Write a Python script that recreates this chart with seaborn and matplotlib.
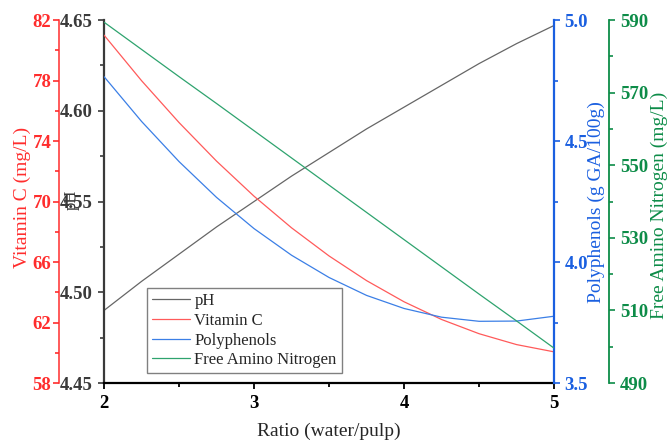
import matplotlib.pyplot as plt
import matplotlib.ticker as mticker
import seaborn as sns

# values
ratio = [2.0, 2.25, 2.5, 2.75, 3.0, 3.25, 3.5, 3.75, 4.0, 4.25, 4.5, 4.75, 5.0]
ph = [4.490, 4.506, 4.521, 4.536, 4.550, 4.564, 4.577, 4.590, 4.602, 4.614, 4.626, 4.637, 4.647]
vitamin_c = [81.00, 77.99, 75.22, 72.67, 70.35, 68.26, 66.40, 64.77, 63.37, 62.20, 61.26, 60.54, 60.06]
polyphenols = [4.766, 4.581, 4.415, 4.267, 4.138, 4.028, 3.936, 3.862, 3.808, 3.772, 3.755, 3.756, 3.776]
free_amino_n = [589.4, 581.9, 574.4, 567.0, 559.5, 552.0, 544.5, 537.0, 529.5, 522.0, 514.5, 507.1, 499.6]

x_ticks = [2, 3, 4, 5]
ph_ticks = [4.45, 4.50, 4.55, 4.60, 4.65]
vc_ticks = [58, 62, 66, 70, 74, 78, 82]
pp_ticks = [3.5, 4.0, 4.5, 5.0]
fan_ticks = [490, 510, 530, 550, 570, 590]

PH_AXIS = "#3a3a3a"
RED = "#ff2d2d"
BLUE = "#1a5fe0"
GREEN = "#0d8c48"
TICK_SIZE = 13.5

sns.set_theme(style="ticks")
plt.rcParams["font.family"] = ["Liberation Serif", "DejaVu Serif"]
plt.rcParams["font.weight"] = "bold"


def _style_y(a, color, pad):
    a.tick_params(axis="y", which="both", colors=color, labelsize=TICK_SIZE, width=1.2, pad=pad)
    a.tick_params(axis="y", which="major", length=4.5)
    a.tick_params(axis="y", which="minor", length=3)


fig = plt.figure(figsize=(6.67, 4.45), dpi=100)
ax = fig.add_axes([0.156, 0.1393, 0.6747, 0.8157])
ax_vc = ax.twinx()
ax_pp = ax.twinx()
ax_fan = ax.twinx()

sns.lineplot(x=ratio, y=ph, ax=ax, color="#666666", linewidth=0.9, label="pH", legend=False)
sns.lineplot(x=ratio, y=vitamin_c, ax=ax_vc, color="#ff5a5a", linewidth=0.9, label="Vitamin C", legend=False)
sns.lineplot(x=ratio, y=polyphenols, ax=ax_pp, color="#3b7fe6", linewidth=0.9, label="Polyphenols", legend=False)
sns.lineplot(x=ratio, y=free_amino_n, ax=ax_fan, color="#2ea36e", linewidth=0.9,
             label="Free Amino Nitrogen", legend=False)

for a in (ax, ax_vc, ax_pp, ax_fan):
    for s in a.spines.values():
        s.set_visible(False)
    a.set_xlim(2, 5)

# x axis
ax.spines["bottom"].set_visible(True)
ax.spines["bottom"].set_color("black")
ax.spines["bottom"].set_linewidth(1.6)
ax.set_xticks(x_ticks)
ax.xaxis.set_minor_locator(mticker.MultipleLocator(0.5))
ax.tick_params(axis="x", which="both", colors="black", labelsize=TICK_SIZE, width=1.3, pad=4)
ax.tick_params(axis="x", which="major", length=4.5)
ax.tick_params(axis="x", which="minor", length=3)
ax.set_xlabel("Ratio (water/pulp)", fontsize=14, fontweight="normal", labelpad=8)

# pH
ax.spines["left"].set_visible(True)
ax.spines["left"].set_color(PH_AXIS)
ax.spines["left"].set_linewidth(1.6)
ax.set_ylim(4.45, 4.65)
ax.set_yticks(ph_ticks)
ax.yaxis.set_minor_locator(mticker.MultipleLocator(0.025))
ax.yaxis.set_major_formatter(mticker.FormatStrFormatter("%.2f"))
_style_y(ax, PH_AXIS, 4.0)
ax.set_ylabel("pH", fontsize=12, fontweight="normal", color=PH_AXIS)
ax.yaxis.set_label_coords(-0.055, 0.504)

# Vitamin C, outer left
ax_vc.yaxis.tick_left()
ax_vc.yaxis.set_label_position("left")
ax_vc.spines["left"].set_visible(True)
ax_vc.spines["left"].set_position(("axes", -0.1))
ax_vc.spines["left"].set_color(RED)
ax_vc.spines["left"].set_linewidth(1.1)
ax_vc.set_ylim(58, 82)
ax_vc.set_yticks(vc_ticks)
ax_vc.yaxis.set_minor_locator(mticker.MultipleLocator(2))
_style_y(ax_vc, RED, 1.0)
ax_vc.set_ylabel("Vitamin C (mg/L)", fontsize=14, fontweight="normal", color=RED)
ax_vc.yaxis.set_label_coords(-0.163, 0.512)

# Polyphenols, right
ax_pp.spines["right"].set_visible(True)
ax_pp.spines["right"].set_color(BLUE)
ax_pp.spines["right"].set_linewidth(1.6)
ax_pp.set_ylim(3.5, 5.0)
ax_pp.set_yticks(pp_ticks)
ax_pp.yaxis.set_minor_locator(mticker.MultipleLocator(0.25))
ax_pp.yaxis.set_major_formatter(mticker.FormatStrFormatter("%.1f"))
_style_y(ax_pp, BLUE, 3.0)
ax_pp.set_ylabel("Polyphenols (g GA/100g)", fontsize=14, fontweight="normal", color=BLUE)
ax_pp.yaxis.set_label_coords(1.0756, 0.499)

# Free Amino Nitrogen, outer right
ax_fan.spines["right"].set_visible(True)
ax_fan.spines["right"].set_position(("axes", 1.122))
ax_fan.spines["right"].set_color(GREEN)
ax_fan.spines["right"].set_linewidth(1.3)
ax_fan.set_ylim(490, 590)
ax_fan.set_yticks(fan_ticks)
ax_fan.yaxis.set_minor_locator(mticker.MultipleLocator(10))
_style_y(ax_fan, GREEN, 3.3)
ax_fan.set_ylabel("Free Amino Nitrogen (mg/L)", fontsize=14, fontweight="normal", color=GREEN)
ax_fan.yaxis.set_label_coords(1.214, 0.49)

handles = []
labels = []
for a in (ax, ax_vc, ax_pp, ax_fan):
    h, l = a.get_legend_handles_labels()
    handles += h
    labels += l
leg = ax_fan.legend(handles, labels, loc="lower left", bbox_to_anchor=(0.095, 0.027),
                    prop={"family": "Liberation Serif", "weight": "normal", "size": 12.0},
                    frameon=True, fancybox=False, framealpha=1, edgecolor="#808080",
                    handlelength=2.3, handletextpad=0.25, labelspacing=0.22,
                    borderpad=0.3, borderaxespad=0)
leg.get_frame().set_linewidth(1.0)

fig.savefig("out.png", dpi=100)
